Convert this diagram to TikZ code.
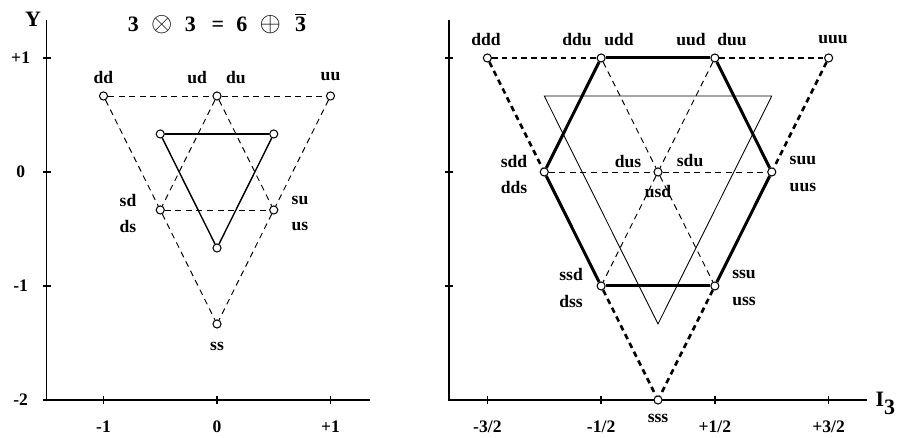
\documentclass[tikz,border=0pt]{standalone}
\usepackage{fontspec}
\setmainfont{Liberation Serif}
\usetikzlibrary{positioning}

\begin{document}
\begin{tikzpicture}[
    axis/.style={line width=0.85pt},
    quark/.style={circle, draw, fill=white, line width=0.6pt,
                  minimum size=4.6pt, inner sep=0pt},
    lbl/.style={font=\fontsize{10}{12}\selectfont\bfseries, inner sep=0pt},
    big/.style={font=\fontsize{12.5}{14}\selectfont\bfseries, inner sep=0pt},
    thin/.style={line width=0.5pt},
    mid/.style={line width=0.8pt},
    thick6/.style={line width=1.7pt},
    dash1/.style={line width=0.55pt, dash pattern=on 3.4pt off 2.6pt},
    dash2/.style={line width=1.5pt, dash pattern=on 3.2pt off 2.4pt}
  ]
  \useasboundingbox (0,0) rectangle (17.96,8.76);

  % Left: 3 x 3 = 6 + 3bar
  \begin{scope}[shift={(4.34,5.32)}, x=2.27cm, y=2.28cm]
    % axes
    \draw[axis] (-1.5,4/3) -- (-1.5,-2) -- (1.35,-2);
    \foreach \t in {1,0,-1,-2}
      \draw[axis] (-1.5,\t) ++(-0.035,0) -- ++(0.07,0);
    \foreach \t in {-1,0,1}
      \draw[axis] (\t,-2) ++(0,-0.035) -- ++(0,0.07);
    \node[lbl] (yl1) at (-1.73,1) {+1};
    \node[lbl] (yl0) at (-1.73,0) {0};
    \node[lbl] (yl2) at (-1.73,-1) {-1};
    \node[lbl] (yl3) at (-1.73,-2) {-2};
    \node[lbl] (xl1) at (-1,-2.237) {-1};
    \node[lbl] (xl2) at (0,-2.237) {0};
    \node[lbl] (xl3) at (1,-2.237) {+1};
    \node[big] (ylab) at (-1.62,1.34) {Y};
    \node[big] (title) at (0,1.30) {3\hspace{7pt}\scalebox{1.3}{$\otimes$}\hspace{7pt}3\hspace{9pt}=\hspace{7pt}6\hspace{7pt}\scalebox{1.3}{$\oplus$}\hspace{8pt}$\overline{\mbox{3}}$};

    % sextet
    \node[quark] (dd) at (-1,2/3) {};
    \node[quark] (ud) at (0,2/3) {};
    \node[quark] (uu) at (1,2/3) {};
    \node[quark] (sd) at (-0.5,-1/3) {};
    \node[quark] (su) at (0.5,-1/3) {};
    \node[quark] (ss) at (0,-4/3) {};
    % anti-triplet
    \node[quark] (a1) at (-0.5,1/3) {};
    \node[quark] (a2) at (0.5,1/3) {};
    \node[quark] (a3) at (0,-2/3) {};

    \draw[dash1] (dd) -- (ud);
    \draw[dash1] (ud) -- (uu);
    \draw[dash1] (dd) -- (sd);
    \draw[dash1] (sd) -- (ss);
    \draw[dash1] (uu) -- (su);
    \draw[dash1] (su) -- (ss);
    \draw[dash1] (ud) -- (sd);
    \draw[dash1] (ud) -- (su);
    \draw[dash1] (sd) -- (su);
    \draw[mid] (a1) -- (a2);
    \draw[mid] (a2) -- (a3);
    \draw[mid] (a3) -- (a1);

    \node[lbl] (ldd) at (-1,0.833) {dd};
    \node[lbl] (lud) at (-0.176,0.833) {ud};
    \node[lbl] (ldu) at (0.167,0.833) {du};
    \node[lbl] (luu) at (1,0.833) {uu};
    \node[lbl] (lsd) at (-0.784,-0.254) {sd};
    \node[lbl] (lds) at (-0.784,-0.474) {ds};
    \node[lbl] (lsu) at (0.731,-0.254) {su};
    \node[lbl] (lus) at (0.731,-0.474) {us};
    \node[lbl] (lss) at (0,-1.526) {ss};
  \end{scope}

  % Right: decuplet, octets and singlet
  \begin{scope}[shift={(13.16,5.32)}, x=4.55cm, y=2.28cm]
    % axes
    \draw[axis] (-0.919,4/3) -- (-0.919,-2) -- (0.919,-2);
    \foreach \t in {1,0,-1}
      \draw[axis] (-0.919,\t) ++(-0.0175,0) -- ++(0.035,0);
    \foreach \t in {-0.75,-0.25,0.25,0.75}
      \draw[axis] (\t,-2) ++(0,-0.035) -- ++(0,0.07);
    \node[lbl] (xr1) at (-0.75,-2.237) {-3/2};
    \node[lbl] (xr2) at (-0.25,-2.237) {-1/2};
    \node[lbl] (xr3) at (0.25,-2.237) {+1/2};
    \node[lbl] (xr4) at (0.75,-2.237) {+3/2};
    \node[big, anchor=west] (ilab) at (0.955,-2.03) {I$_{\mbox{3}}$};

    % thin triangle
    \coordinate (t1) at (-0.5,2/3);
    \coordinate (t2) at (0.5,2/3);
    \coordinate (t3) at (0,-4/3);
    \draw[thin] (t1) -- (t2) -- (t3) -- cycle;

    \node[quark] (ddd) at (-0.75,1) {};
    \node[quark] (ddu) at (-0.25,1) {};
    \node[quark] (uud) at (0.25,1) {};
    \node[quark] (uuu) at (0.75,1) {};
    \node[quark] (sdd) at (-0.5,0) {};
    \node[quark] (usd) at (0,0) {};
    \node[quark] (suu) at (0.5,0) {};
    \node[quark] (ssd) at (-0.25,-1) {};
    \node[quark] (ssu) at (0.25,-1) {};
    \node[quark] (sss) at (0,-2) {};

    \draw[dash1] (ddu) -- (usd);
    \draw[dash1] (usd) -- (ssu);
    \draw[dash1] (uud) -- (usd);
    \draw[dash1] (usd) -- (ssd);
    \draw[dash1] (sdd) -- (usd);
    \draw[dash1] (usd) -- (suu);

    \draw[dash2] (ddd) -- (ddu);
    \draw[dash2] (uud) -- (uuu);
    \draw[dash2] (ddd) -- (sdd);
    \draw[dash2] (uuu) -- (suu);
    \draw[dash2] (ssd) -- (sss);
    \draw[dash2] (ssu) -- (sss);

    \draw[thick6] (ddu) -- (uud);
    \draw[thick6] (uud) -- (suu);
    \draw[thick6] (suu) -- (ssu);
    \draw[thick6] (ssu) -- (ssd);
    \draw[thick6] (ssd) -- (sdd);
    \draw[thick6] (sdd) -- (ddu);

    \node[lbl] (lddd) at (-0.756,1.158) {ddd};
    \node[lbl] (lddu) at (-0.356,1.158) {ddu};
    \node[lbl] (ludd) at (-0.171,1.158) {udd};
    \node[lbl] (luud) at (0.145,1.158) {uud};
    \node[lbl] (lduu) at (0.325,1.158) {duu};
    \node[lbl] (luuu) at (0.769,1.158) {uuu};
    \node[lbl] (lsdd) at (-0.633,0.088) {sdd};
    \node[lbl] (ldds) at (-0.633,-0.14) {dds};
    \node[lbl] (ldus) at (-0.132,0.088) {dus};
    \node[lbl] (lsdu) at (0.141,0.105) {sdu};
    \node[lbl] (lusd) at (0,-0.175) {usd};
    \node[lbl] (lsuu) at (0.637,0.105) {suu};
    \node[lbl] (luus) at (0.637,-0.14) {uus};
    \node[lbl] (lssd) at (-0.382,-0.895) {ssd};
    \node[lbl] (ldss) at (-0.382,-1.14) {dss};
    \node[lbl] (lssu) at (0.378,-0.895) {ssu};
    \node[lbl] (luss) at (0.378,-1.14) {uss};
    \node[lbl] (lsss) at (0,-2.158) {sss};
  \end{scope}
\end{tikzpicture}
\end{document}
